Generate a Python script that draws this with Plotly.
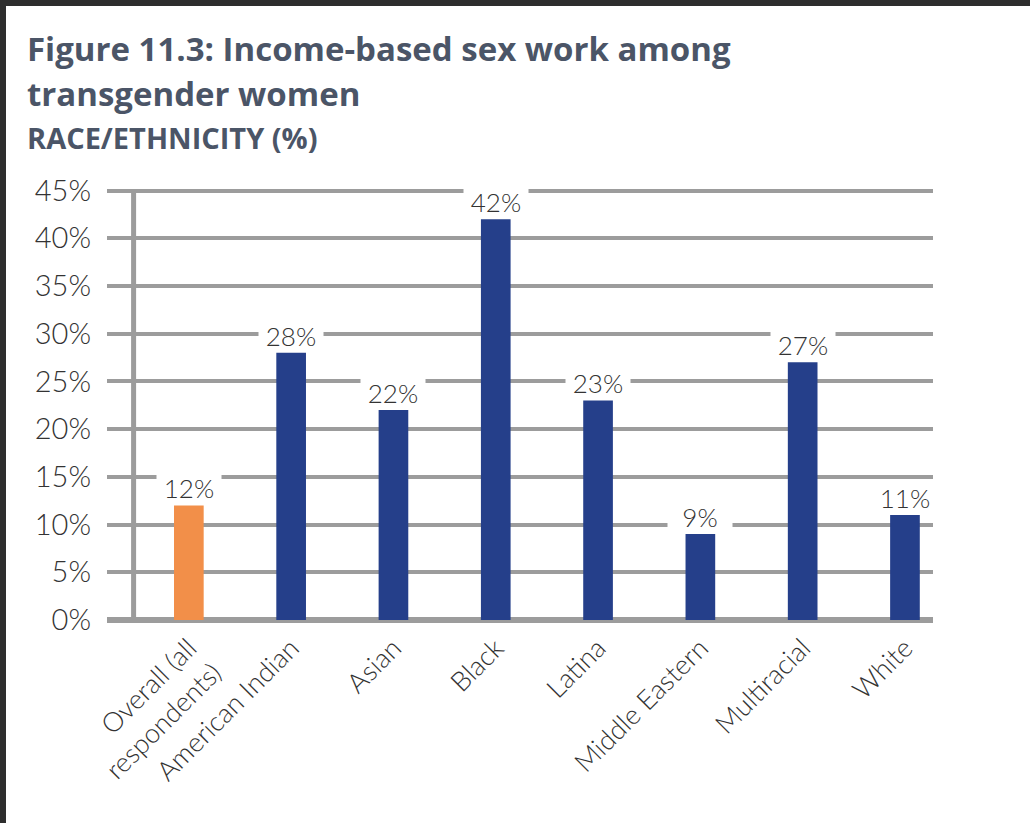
import plotly.graph_objects as go

# Share of transgender women who have done income-based sex work, by race/ethnicity
categories = [
    "Overall (all<br>respondents)",
    "American Indian",
    "Asian",
    "Black",
    "Latina",
    "Middle Eastern",
    "Multiracial",
    "White",
]
values = [12, 28, 22, 42, 23, 9, 27, 11]
value_labels = ["12%", "28%", "22%", "42%", "23%", "9%", "27%", "11%"]
y_ticks = [0, 5, 10, 15, 20, 25, 30, 35, 40, 45]
y_tick_labels = ["0%", "5%", "10%", "15%", "20%", "25%", "30%", "35%", "40%", "45%"]

ORANGE = "#F28F49"
NAVY = "#253F8A"
GRID = "#9C9C9C"
TEXT = "#333333"
TITLE = "#4B5567"
FONT = "Lato"
TITLE_FONT = "Open Sans"

W, H = 1030, 823
L, R, T, B = 107, 97, 180, 197          # plot area: x 107..933, y 180..626
PW, PH = W - L - R, H - T - B


def px_x(px):
    return (px - L) / PW


def px_y(py):
    return (H - B - py) / PH


bar_colors = [ORANGE] + [NAVY] * (len(values) - 1)

fig = go.Figure(
    go.Bar(
        x=list(range(len(categories))),
        y=values,
        width=0.29,
        marker=dict(color=bar_colors, line=dict(width=0)),
        hoverinfo="skip",
    )
)

# value labels sit on white boxes that break the gridlines
for i, (v, lab) in enumerate(zip(values, value_labels)):
    fig.add_annotation(
        x=i, y=v, text=lab, showarrow=False,
        xref="x", yref="y", yanchor="middle", yshift=17,
        width=62, height=28, align="center", valign="middle",
        bgcolor="white", borderpad=1,
        font=dict(family=FONT, size=26, color=TEXT, weight=300),
    )

# title block
titles = [
    ("Figure 11.3: Income-based sex work among", 33, 48),
    ("transgender women", 33, 93),
    ("RACE/ETHNICITY (%)", 29, 138),
]
for text, size, cy in titles:
    fig.add_annotation(
        x=px_x(25), y=px_y(cy), xref="paper", yref="paper",
        text=f"<b>{text}</b>", showarrow=False,
        xanchor="left", yanchor="middle",
        font=dict(family=TITLE_FONT, size=size, color=TITLE),
    )

shapes = [
    # vertical axis line
    dict(type="line", xref="x", yref="y", x0=-0.54, x1=-0.54, y0=0, y1=45,
         line=dict(color=GRID, width=5), layer="below"),
    # dark frame on the top and left edges
    dict(type="rect", xref="paper", yref="paper",
         x0=px_x(0), x1=px_x(W), y0=px_y(6), y1=px_y(0),
         fillcolor="#2E2E2E", line=dict(width=0)),
    dict(type="rect", xref="paper", yref="paper",
         x0=px_x(0), x1=px_x(6), y0=px_y(H), y1=px_y(0),
         fillcolor="#2E2E2E", line=dict(width=0)),
]

fig.update_layout(
    width=W, height=H,
    margin=dict(l=L, r=R, t=T, b=B, pad=0),
    paper_bgcolor="white", plot_bgcolor="white",
    showlegend=False,
    shapes=shapes,
    xaxis=dict(
        range=[-0.80, 7.274],
        tickmode="array",
        tickvals=list(range(len(categories))),
        ticktext=categories,
        tickangle=-45,
        showgrid=False, zeroline=False, showline=False, ticks="",
        tickfont=dict(family=FONT, size=27, color=TEXT, weight=300),
        fixedrange=True,
    ),
    yaxis=dict(
        range=[-0.63, 46.1],
        tickmode="array",
        tickvals=y_ticks,
        ticktext=y_tick_labels,
        showgrid=True, gridcolor=GRID, gridwidth=4,
        zeroline=True, zerolinecolor=GRID, zerolinewidth=6,
        showline=False, ticks="",
        ticklabelstandoff=15,
        tickfont=dict(family=FONT, size=29, color=TEXT, weight=300),
        fixedrange=True,
    ),
)

fig.write_html("out.html")
